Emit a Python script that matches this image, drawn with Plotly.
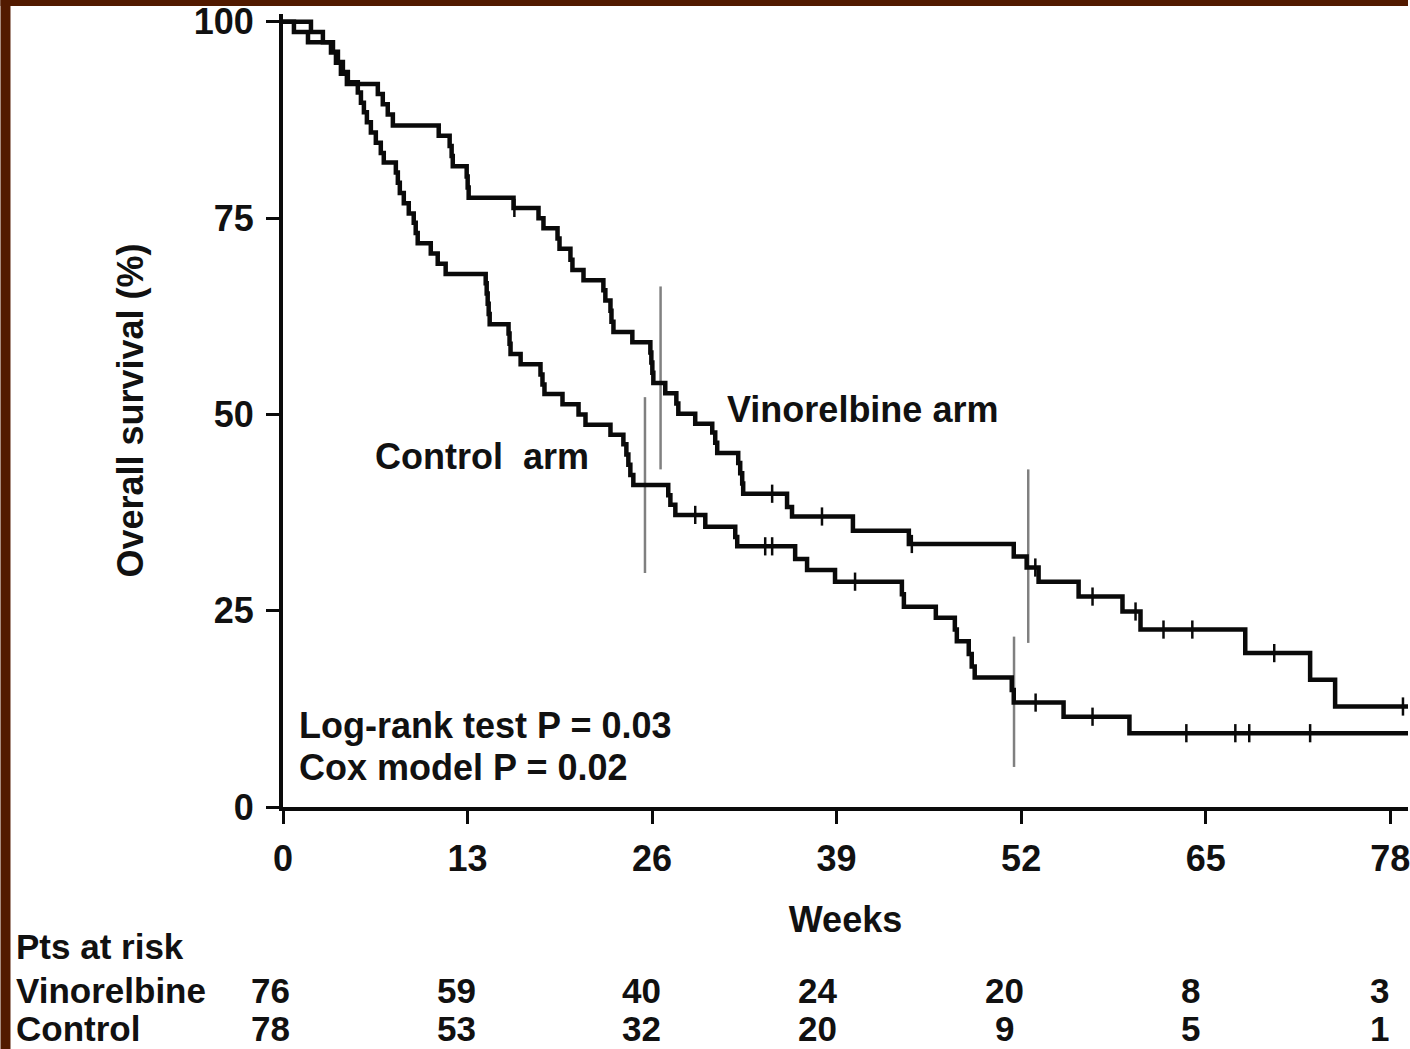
import numpy as np
import plotly.graph_objects as go

# ---------------- data ----------------
week_ticks = [0, 13, 26, 39, 52, 65, 78]
surv_ticks = [0, 25, 50, 75, 100]

# Vinorelbine arm: Kaplan-Meier step times (weeks) and survival (%) after each step
vin_weeks = [0, 1.97, 2.81, 3.38, 3.73, 4.08, 4.50, 6.68, 7.03, 7.38, 7.74, 10.97, 11.74,
             11.88, 11.96, 12.94, 13.01, 13.08, 16.24, 18.0, 18.35, 19.34, 19.48, 20.25,
             20.39, 21.17, 22.57, 22.71, 23.07, 23.14, 23.28, 24.61, 25.88, 25.95, 26.02,
             26.09, 26.93, 27.71, 27.85, 29.04, 30.24, 30.45, 30.59, 32.07, 32.21, 32.35,
             32.42, 35.51, 35.86, 40.15, 44.09, 51.48, 52.39, 53.23, 56.05, 59.14, 60.41,
             67.79, 72.36, 74.12]
vin_surv = [100, 98.7, 97.4, 96.1, 94.8, 93.4, 92.1, 90.8, 89.5, 88.2, 86.8, 85.5, 84.2,
            82.9, 81.6, 80.3, 78.9, 77.6, 76.3, 75.0, 73.7, 72.4, 71.1, 69.7,
            68.4, 67.1, 65.8, 64.5, 63.2, 61.8, 60.5, 59.2, 57.9, 56.6, 55.3,
            54.0, 52.7, 51.4, 50.1, 48.8, 47.7, 46.4, 45.1, 43.8, 42.5, 41.2,
            39.9, 38.2, 37.0, 35.2, 33.5, 31.9, 30.5, 28.7, 26.8, 24.9, 22.6,
            19.6, 16.2, 12.8]
vin_censor_weeks = [16.3, 34.46, 37.97, 44.3, 53.0, 57.03, 60.06, 62.03, 64.06, 69.83, 78.9]

# Control arm
ctl_weeks = [0, 0.77, 1.76, 3.52, 3.87, 4.22, 4.57, 5.27, 5.49, 5.70, 5.91, 6.19, 6.54,
             6.89, 7.10, 7.95, 8.09, 8.23, 8.51, 8.86, 9.21, 9.35, 9.49, 10.41, 10.90,
             11.46, 14.28, 14.35, 14.42, 14.49, 14.56, 15.89, 15.96, 16.03, 16.74, 18.14,
             18.28, 18.42, 19.69, 20.82, 21.31, 23.07, 23.98, 24.19, 24.33, 24.47, 24.68,
             27.14, 27.29, 27.64, 29.75, 31.86, 32.0, 36.08, 36.92, 38.89, 43.60, 43.74,
             45.99, 47.33, 47.47, 48.31, 48.52, 48.73, 51.34, 51.48, 54.99, 59.63]
ctl_surv = [100, 98.7, 97.4, 96.2, 94.9, 93.6, 92.3, 91.0, 89.7, 88.5, 87.2, 85.9, 84.6,
            83.3, 82.1, 80.8, 79.5, 78.2, 76.9, 75.6, 74.4, 73.1, 71.8, 70.5, 69.2,
            67.9, 66.7, 65.4, 64.1, 62.8, 61.5, 60.3, 59.0, 57.7, 56.4, 55.1,
            53.8, 52.6, 51.3, 50.0, 48.7, 47.4, 46.2, 44.9, 43.6, 42.3, 41.0,
            39.7, 38.5, 37.2, 35.7, 34.4, 33.2, 31.6, 30.2, 28.7, 27.1, 25.5,
            24.1, 22.6, 21.1, 19.5, 17.9, 16.5, 14.9, 13.3, 11.5, 9.4]
ctl_censor_weeks = [29.04, 33.97, 34.46, 40.3, 53.02, 57.03, 63.64, 67.09, 68.07, 72.36]

# Landmark bars (weeks, low %, high %)
landmark_weeks = [25.5, 26.6, 51.5, 52.5]
landmark_low = [29.8, 43.0, 5.1, 20.9]
landmark_high = [52.2, 66.3, 21.7, 43.0]

risk_labels = ["Vinorelbine", "Control"]
risk_vin = [76, 59, 40, 24, 20, 8, 3]
risk_ctl = [78, 53, 32, 20, 9, 5, 1]

# ---------------- layout constants ----------------
W, H = 1410, 1049
PLOT_L, PLOT_BOTTOM, PLOT_T = 283, 807, 14
PX_PER_WEEK = 14.22
X_END = (W - PLOT_L) / PX_PER_WEEK
Y_TOP = 101
FONT = "Liberation Sans, Arial, Helvetica, sans-serif"
BROWN = "#521a00"


def step_value(ts, ss, t):
    idx = np.searchsorted(np.asarray(ts), t, side="right") - 1
    return [ss[i] for i in idx]


fig = go.Figure()

# landmark gray bars
for wk, lo, hi in zip(landmark_weeks, landmark_low, landmark_high):
    fig.add_trace(go.Scatter(x=[wk, wk], y=[lo, hi], mode="lines",
                             line=dict(color="#808080", width=2.5),
                             showlegend=False, hoverinfo="skip"))

for ts, ss, cw in [(vin_weeks, vin_surv, vin_censor_weeks),
                   (ctl_weeks, ctl_surv, ctl_censor_weeks)]:
    fig.add_trace(go.Scatter(x=list(ts) + [X_END], y=list(ss) + [ss[-1]],
                             mode="lines", line=dict(color="#0a0a0a", width=4.5, shape="hv"),
                             showlegend=False))
    fig.add_trace(go.Scatter(x=cw, y=step_value(ts, ss, cw), mode="markers",
                             marker=dict(symbol="line-ns", size=13,
                                         line=dict(color="#0a0a0a", width=2.5)),
                             showlegend=False))

ann_font = dict(family=FONT, size=36, color="#111", weight="bold")
table_font = dict(family=FONT, size=35, color="#111", weight="bold")
texts = [
    ("Vinorelbine arm", 31.15, 50.6),
    ("Control\u00a0 arm", 6.33, 44.7),
    ("Log-rank test P = 0.03", 0.98, 10.4),
    ("Cox model P = 0.02", 0.98, 5.0),
]
for t, x, y in texts:
    fig.add_annotation(text=t, x=x, y=y, xref="x", yref="y", xanchor="left",
                       yanchor="middle", showarrow=False, font=ann_font)

# at-risk table
col_shift = [-13, -11, -11, -19, -17, -15, -11]
rows = [("Pts at risk", 946, None), (risk_labels[0], 990, risk_vin),
        (risk_labels[1], 1028, risk_ctl)]
for label, py, vals in rows:
    fig.add_annotation(text=label, x=0, y=0, xref="paper", yref="paper",
                       xanchor="left", yanchor="middle", xshift=14 - PLOT_L,
                       yshift=PLOT_BOTTOM - py, showarrow=False, font=table_font)
    if vals:
        for wk, v, xs in zip(week_ticks, vals, col_shift):
            fig.add_annotation(text=str(v), x=wk, y=0, xref="x", yref="paper",
                               xanchor="center", yanchor="middle", xshift=xs,
                               yshift=PLOT_BOTTOM - py, showarrow=False, font=table_font)

# brown frame (left and top bands)
plot_w = W - PLOT_L
plot_h = PLOT_BOTTOM - PLOT_T
fig.add_shape(type="rect", xref="paper", yref="paper", layer="below",
              x0=(0 - PLOT_L) / plot_w, x1=(10 - PLOT_L) / plot_w,
              y0=(PLOT_BOTTOM - H) / plot_h, y1=(PLOT_BOTTOM - 0) / plot_h,
              fillcolor=BROWN, line_width=0)
fig.add_shape(type="rect", xref="paper", yref="paper", layer="below",
              x0=(0 - PLOT_L) / plot_w, x1=(W - PLOT_L) / plot_w,
              y0=(PLOT_BOTTOM - 6) / plot_h, y1=(PLOT_BOTTOM - 0) / plot_h,
              fillcolor=BROWN, line_width=0)

tick_font = dict(family=FONT, size=36, color="#111", weight="bold")
fig.update_layout(
    width=W, height=H, autosize=False,
    margin=dict(l=PLOT_L, r=0, t=PLOT_T, b=H - PLOT_BOTTOM, pad=0),
    paper_bgcolor="white", plot_bgcolor="white",
    xaxis=dict(range=[0, X_END], tickvals=week_ticks, ticktext=[str(v) for v in week_ticks],
               showline=True, linewidth=4, linecolor="#0a0a0a", ticks="outside",
               ticklen=13, tickwidth=3, tickcolor="#0a0a0a", showgrid=False,
               zeroline=False, tickfont=tick_font, ticklabelstandoff=4,
               ticklabeloverflow="allow",
               title=dict(text="Weeks", font=tick_font, standoff=30)),
    yaxis=dict(range=[0, Y_TOP], tickvals=surv_ticks, showline=True, linewidth=4,
               linecolor="#0a0a0a", ticks="outside", ticklen=13, tickwidth=3,
               tickcolor="#0a0a0a", showgrid=False, zeroline=False, tickfont=tick_font,
               ticklabelstandoff=5,
               title=dict(text="Overall survival (%)", font=tick_font, standoff=40)),
)

fig.write_html("out.html", config={"displayModeBar": False})
